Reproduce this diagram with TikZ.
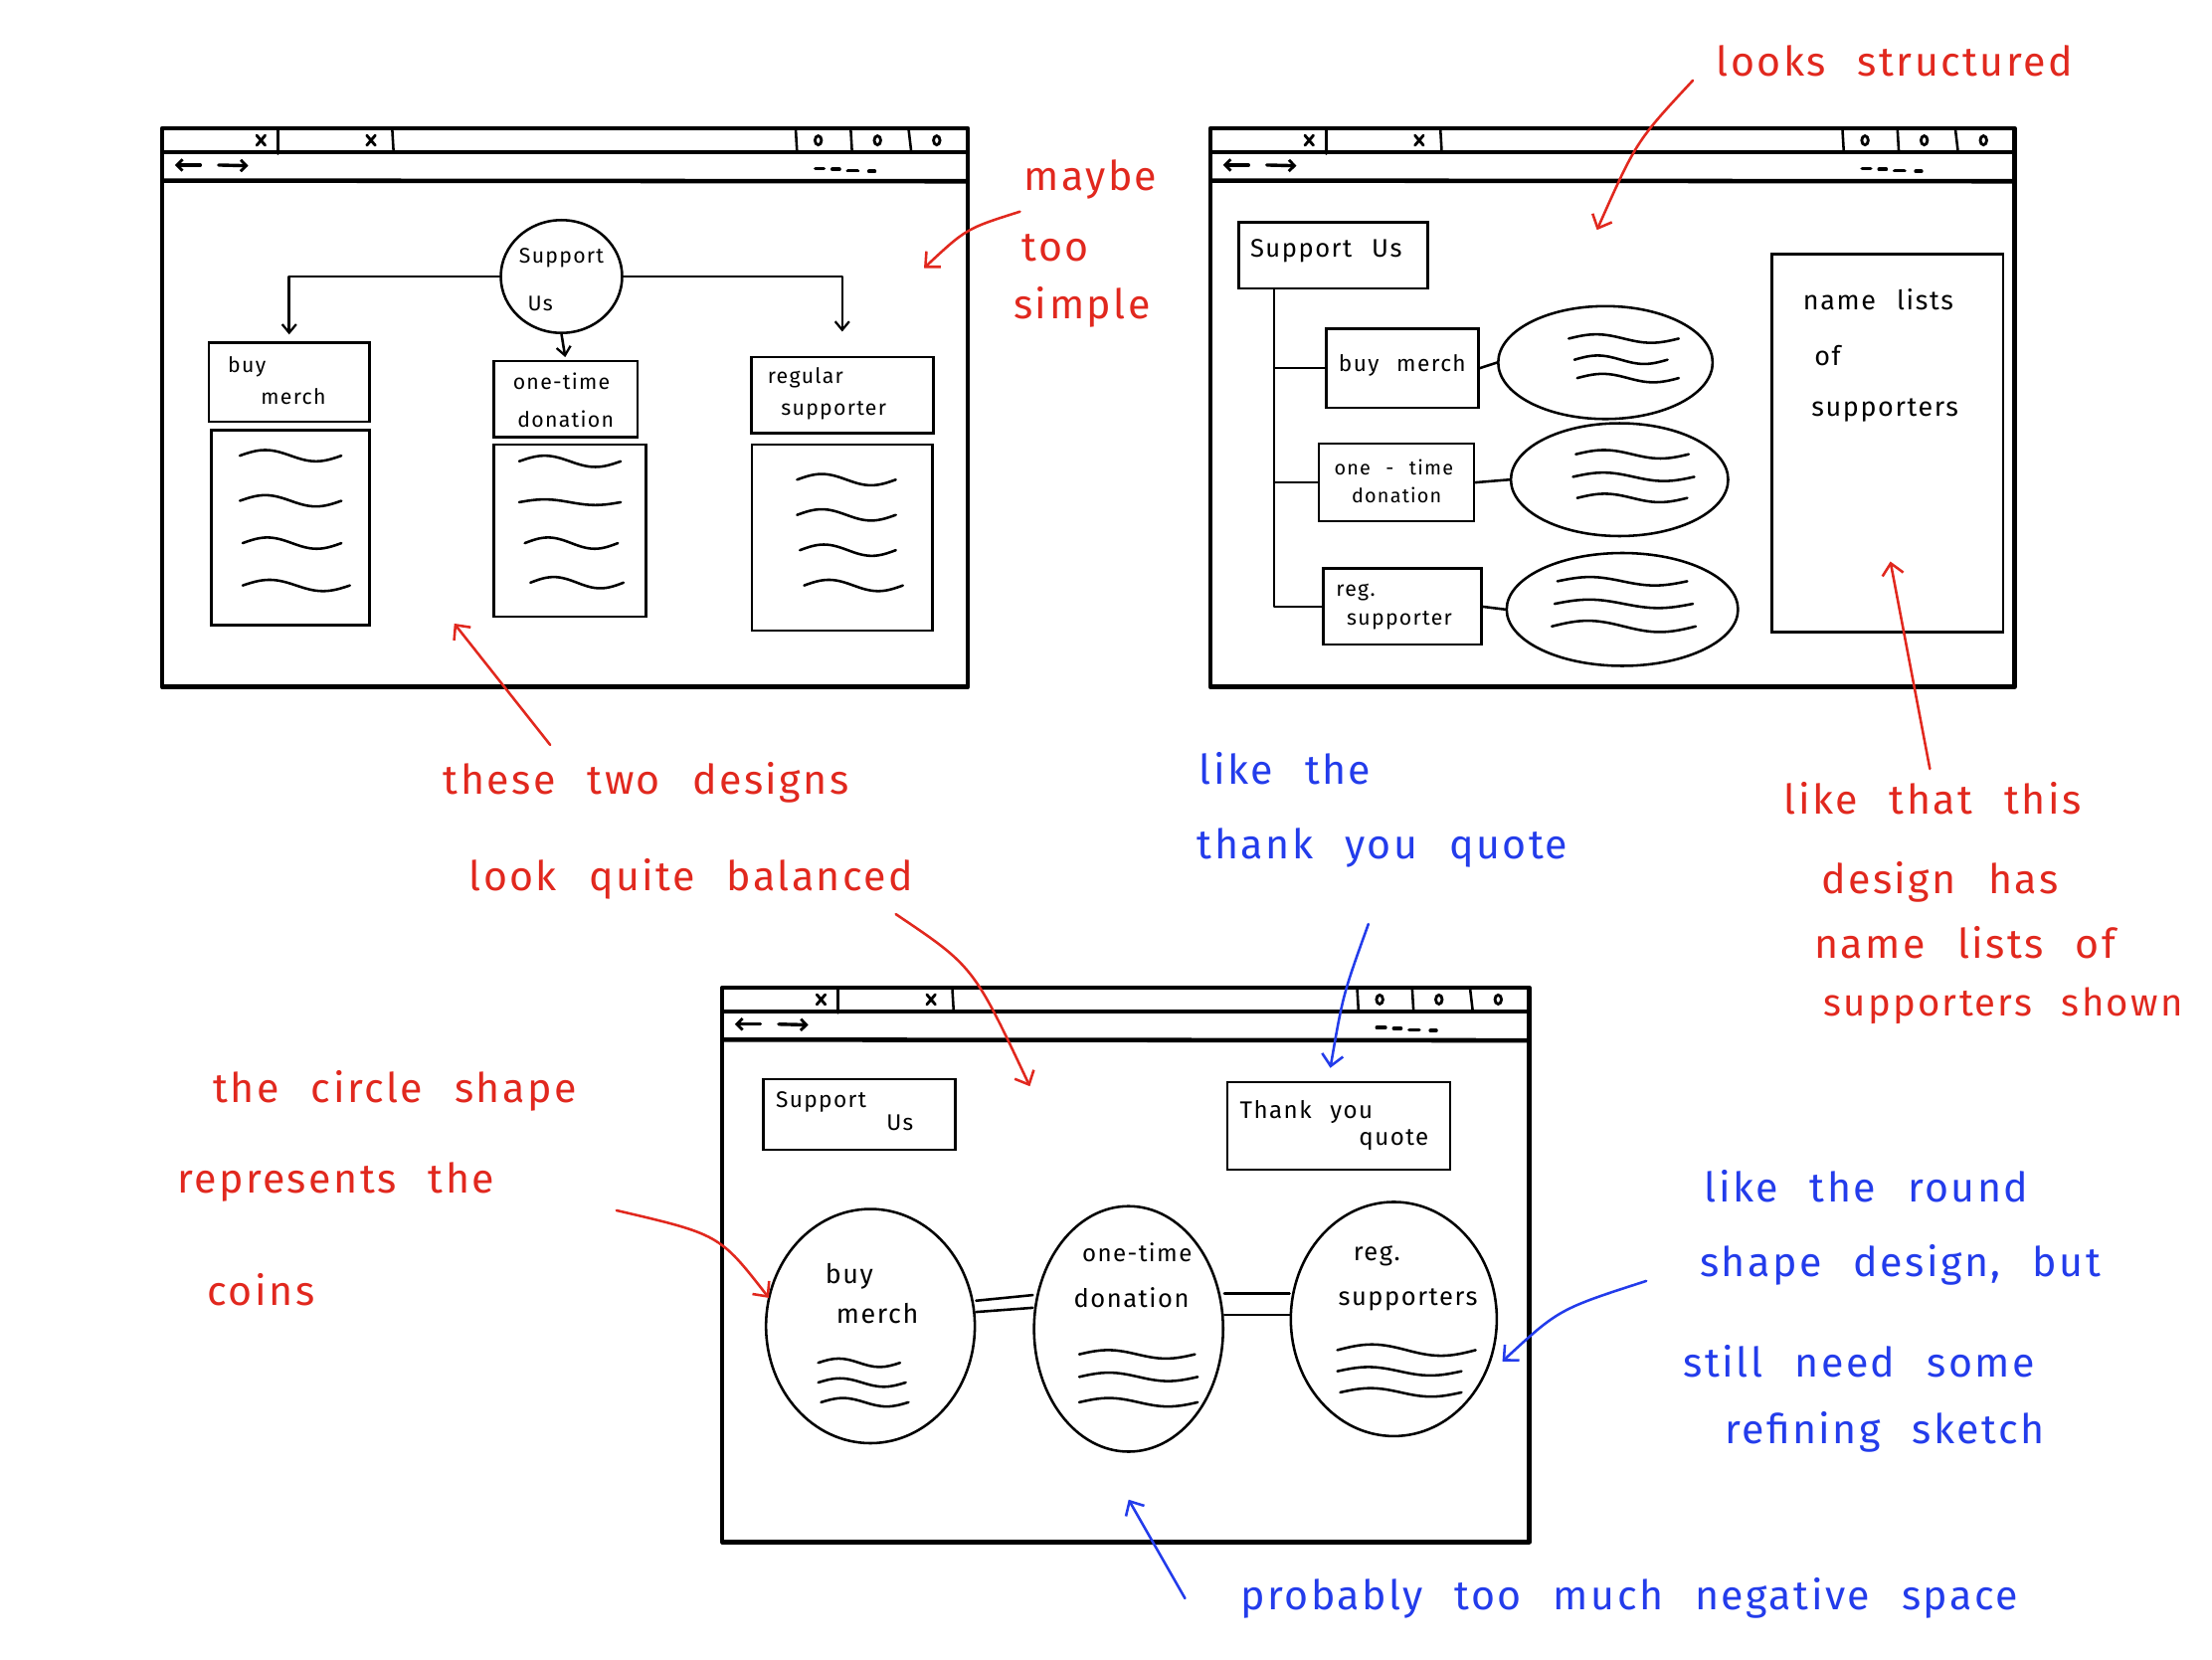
\documentclass[tikz,border=0pt]{standalone}
\usepackage{fontspec}
\setmainfont{Fira Sans}
\newfontfamily\handfont{Fira Sans}[LetterSpace=6,WordSpace=2.4]
\usetikzlibrary{arrows.meta,shapes.geometric}
\definecolor{redc}{RGB}{225,40,30}
\definecolor{bluec}{RGB}{35,60,235}
\tikzset{
  frame/.style={line width=3.2pt,line join=round},
  ink/.style={line width=1.8pt,line cap=round,line join=round},
  xmark/.style={line width=2pt,line cap=round},
  omark/.style={line width=2pt},
  tbarrow/.style={line width=2.4pt,line cap=round,-{Straight Barb[length=4pt,width=8pt,line width=2pt]}},
  dashmark/.style={line width=2.6pt,line cap=round},
  box/.style={draw,line width=1.8pt,rectangle,inner sep=0pt},
  oval/.style={draw,line width=1.8pt,ellipse,inner sep=0pt},
  wtext/.style={font=\handfont\fontsize{15}{17}\selectfont,inner sep=0pt},
  btext/.style={font=\handfont\fontsize{18}{20}\selectfont,inner sep=0pt},
  rnote/.style={text=redc,font=\handfont\fontsize{29}{31}\selectfont,inner sep=0pt},
  bnote/.style={text=bluec,font=\handfont\fontsize{29}{31}\selectfont,inner sep=0pt},
  conn/.style={ink,-{Straight Barb[length=6pt,width=10pt,line width=1.6pt]}},
  rarrow/.style={draw=redc,line width=1.8pt,line cap=round,-{Straight Barb[length=8pt,width=15pt,line width=1.8pt]}},
  barrow/.style={draw=bluec,line width=1.8pt,line cap=round,-{Straight Barb[length=8pt,width=15pt,line width=1.8pt]}}
}
\newcommand\browserwin[4]{%
\begin{scope}[shift={(#1,#2)}]
\draw[frame] (0,0) rectangle (#3,#4);
\draw[frame] (0,17) -- (#3,17);
\draw[frame] (0,37) -- (#3,37.5);
\draw[ink] (82,0) -- (82,18);
\draw[ink] (163,0) -- (164,17);
\draw[xmark] (67,5) -- (73,12) (73,5) -- (67,12);
\draw[xmark] (145,5) -- (151,12) (151,5) -- (145,12);
\draw[ink] (#3-122,0) -- (#3-121,17);
\draw[ink] (#3-83,0) -- (#3-82,17);
\draw[ink] (#3-42,0) -- (#3-40,17);
\draw[omark] (#3-106,8.5) ellipse (2.3 and 3.2);
\draw[omark] (#3-64,8.5) ellipse (2.3 and 3.2);
\draw[omark] (#3-22,8.5) ellipse (2.3 and 3.2);
\draw[tbarrow] (27,26) -- (9,26);
\draw[tbarrow] (40,26) -- (61,26.5);
\draw[dashmark] (#3-108,28.5)--(#3-102,28.5) (#3-96,29)--(#3-91,29) (#3-85,30)--(#3-78,30) (#3-70,30.5)--(#3-66,30.5);
\end{scope}}
\newcommand\wv[4]{% x, y, width, amplitude
\draw[ink] (#1,#2) sin ++(#3/4,-#4) cos ++(#3/4,#4) sin ++(#3/4,#4) cos ++(#3/4,-#4);}
\begin{document}
\begin{tikzpicture}[x=1pt,y=-1pt]
\useasboundingbox (0,0) rectangle (1568,1176);
\fill[white] (0,0) rectangle (1568,1176);

% ---------------- windows ----------------
\browserwin{115}{91}{571}{396}
\browserwin{858}{91}{570}{396}
\browserwin{512}{700}{572}{393}

% ---------------- top-left content ----------------
\node[oval,minimum width=86pt,minimum height=80pt] (tlsup) at (398,196) {};
\node[wtext] (tlsupa) at (398,183) {Support};
\node[wtext] (tlsupb) at (383,215) {Us};

\node[box,minimum width=114pt,minimum height=56pt] (tlbuyh) at (205,271) {};
\node[box,minimum width=112pt,minimum height=138pt] (tlbuyb) at (206,374) {};
\node[wtext] (tlbuyt1) at (175,260) {buy};
\node[wtext] (tlbuyt2) at (208,281) {merch};
\wv{170}{323}{72}{4}\wv{170}{355}{72}{4}\wv{172}{385}{70}{4}\wv{172}{415}{76}{4}

\node[box,minimum width=102pt,minimum height=54pt] (tloneh) at (401,283) {};
\node[box,minimum width=108pt,minimum height=122pt] (tloneb) at (404,376) {};
\node[wtext] (tlonet1) at (398,270) {one-time};
\node[wtext] (tlonet2) at (401,297) {donation};
\wv{368}{327}{72}{4}\wv{368}{356}{72}{2}\wv{372}{385}{66}{4}\wv{376}{413}{66}{4}

\node[box,minimum width=129pt,minimum height=54pt] (tlregh) at (597,280) {};
\node[box,minimum width=128pt,minimum height=132pt] (tlregb) at (597,381) {};
\node[wtext] (tlregt1) at (571,268) {regular};
\node[wtext] (tlregt2) at (591,291) {supporter};
\wv{565}{340}{70}{4}\wv{565}{365}{70}{4}\wv{567}{390}{68}{4}\wv{570}{415}{70}{4}

\draw[conn,shorten >=5pt] (tlsup.west) -| (tlbuyh.north);
\draw[conn,shorten >=17pt] (tlsup.east) -| (tlregh.north);
\draw[conn,shorten >=2pt] (tlsup.south) -- (tloneh.north);

% ---------------- top-right content ----------------
\node[box,minimum width=134pt,minimum height=47pt] (trsup) at (945,181) {};
\node[btext] (trsupt) at (940,178) {Support Us};

\node[box,minimum width=108pt,minimum height=56pt] (trbuy) at (994,261) {};
\node[wtext,font=\handfont\fontsize{16}{18}\selectfont] (trbuyt) at (994,259) {buy merch};
\node[box,minimum width=110pt,minimum height=55pt] (trone) at (990,342) {};
\node[wtext,font=\handfont\fontsize{14}{16}\selectfont] (tronet1) at (988,331) {one - time};
\node[wtext,font=\handfont\fontsize{14}{16}\selectfont] (tronet2) at (990,351) {donation};
\node[box,minimum width=112pt,minimum height=54pt] (trreg) at (994,430) {};
\node[wtext] (trregt1) at (961,420) {reg.};
\node[wtext] (trregt2) at (992,440) {supporter};

\draw[ink] ([xshift=26pt]trsup.south west) |- (trbuy.west);
\draw[ink] ([xshift=26pt]trsup.south west) |- (trone.west);
\draw[ink] ([xshift=26pt]trsup.south west) |- (trreg.west);

\node[oval,minimum width=152pt,minimum height=80pt] (trbuyo) at (1138,257) {};
\node[oval,minimum width=154pt,minimum height=80pt] (troneo) at (1148,340) {};
\node[oval,minimum width=164pt,minimum height=80pt] (trrego) at (1150,432) {};
\draw[ink] (trbuy.east) -- (trbuyo.west);
\draw[ink] (trone.east) -- (troneo.west);
\draw[ink] (trreg.east) -- (trrego.west);
\wv{1112}{240}{78}{3}\wv{1116}{255}{66}{3}\wv{1118}{268}{72}{3}
\wv{1117}{322}{80}{3}\wv{1115}{338}{86}{3}\wv{1118}{353}{78}{3}
\wv{1104}{412}{92}{3}\wv{1102}{428}{98}{3}\wv{1100}{444}{102}{4}

\node[box,minimum width=164pt,minimum height=268pt] (trlist) at (1338,314) {};
\node[btext,anchor=west,font=\handfont\fontsize{19}{21}\selectfont] (trlistt1) at (1278,212) {name lists};
\node[btext,anchor=west,font=\handfont\fontsize{19}{21}\selectfont] (trlistt2) at (1286,252) {of};
\node[btext,anchor=west,font=\handfont\fontsize{19}{21}\selectfont] (trlistt3) at (1284,291) {supporters};

% ---------------- bottom content ----------------
\node[box,minimum width=136pt,minimum height=50pt] (bsup) at (609,790) {};
\node[wtext,font=\handfont\fontsize{16}{18}\selectfont] (bsupt1) at (582,781) {Support};
\node[wtext,font=\handfont\fontsize{16}{18}\selectfont] (bsupt2) at (638,796) {Us};
\node[box,minimum width=158pt,minimum height=62pt] (bty) at (949,798) {};
\node[wtext,font=\handfont\fontsize{17}{19}\selectfont] (btyt1) at (926,788) {Thank you};
\node[wtext,font=\handfont\fontsize{17}{19}\selectfont] (btyt2) at (988,808) {quote};

\node[oval,minimum width=148pt,minimum height=166pt] (bbuy) at (617,940) {};
\node[oval,minimum width=134pt,minimum height=174pt] (bone) at (800,942) {};
\node[oval,minimum width=146pt,minimum height=166pt] (breg) at (988,935) {};
\draw[ink] ([yshift=18pt]bbuy.east) -- ([yshift=24pt]bone.west);
\draw[ink] ([yshift=10pt]bbuy.east) -- ([yshift=15pt]bone.west);
\draw[ink] ([yshift=25pt]bone.east) -- ([yshift=18pt]breg.west);
\draw[ink] ([yshift=10pt]bone.east) -- ([yshift=3pt]breg.west);
\node[btext,font=\handfont\fontsize{19}{21}\selectfont] (bbuyt1) at (602,905) {buy};
\node[btext,font=\handfont\fontsize{19}{21}\selectfont] (bbuyt2) at (622,931) {merch};
\node[btext,font=\handfont\fontsize{17}{19}\selectfont] (bonet1) at (806,888) {one-time};
\node[btext] (bonet2) at (802,920) {donation};
\node[btext] (bregt1) at (976,890) {reg.};
\node[btext] (bregt2) at (998,921) {supporters};
\wv{580}{966}{58}{3}\wv{580}{980}{62}{3}\wv{582}{994}{62}{3}
\wv{765}{960}{82}{3}\wv{765}{976}{84}{3}\wv{765}{994}{84}{3}
\wv{948}{957}{98}{4}\wv{948}{972}{88}{3}\wv{950}{987}{86}{3}

% ---------------- red notes ----------------
\node[rnote] (n1) at (1343,43) {looks structured};
\node[rnote] (n2a) at (773,127) {maybe};
\node[rnote] (n2b) at (748,176) {too};
\node[rnote] (n2c) at (767,218) {simple};
\node[rnote] (n3a) at (458,555) {these two designs};
\node[rnote] (n3b) at (490,623) {look quite balanced};
\node[rnote] (n4a) at (280,773) {the circle shape};
\node[rnote] (n4b) at (238,838) {represents the};
\node[rnote] (n4c) at (185,914) {coins};
\node[rnote] (n5a) at (1370,566) {like that this};
\node[rnote] (n5b) at (1375,625) {design has};
\node[rnote] (n5c) at (1393,668) {name lists of};
\node[rnote,font=\handfont\fontsize{27}{29}\selectfont] (n5d) at (1420,713) {supporters shown};

% ---------------- blue notes ----------------
\node[bnote] (m1a) at (911,545) {like the};
\node[bnote] (m1b) at (980,601) {thank you quote};
\node[bnote] (m2a) at (1323,841) {like the round};
\node[bnote] (m2b) at (1347,897) {shape design, but};
\node[bnote] (m2c) at (1318,965) {still need some};
\node[bnote] (m2d) at (1336,1015) {refining sketch};
\node[bnote] (m3) at (1155,1133) {probably too much negative space};

% ---------------- note arrows ----------------
\coordinate (r1s) at (1200,57);  \coordinate (r1e) at (1132,163);
\coordinate (r2s) at (723,150);  \coordinate (r2e) at (655,190);
\coordinate (r3s) at (390,528);  \coordinate (r3e) at (322,442);
\coordinate (r4s) at (635,648);  \coordinate (r4e) at (730,770);
\coordinate (r5s) at (437,858);  \coordinate (r5e) at (545,920);
\coordinate (r6s) at (1368,545); \coordinate (r6e) at (1340,398);
\coordinate (b1s) at (970,655);  \coordinate (b1e) at (943,757);
\coordinate (b2s) at (1167,908); \coordinate (b2e) at (1065,965);
\coordinate (b3s) at (840,1133); \coordinate (b3e) at (800,1063);
\draw[rarrow] (r1s) .. controls (1160,100) .. (r1e);
\draw[rarrow] (r2s) .. controls (685,162) .. (r2e);
\draw[rarrow] (r3s) -- (r3e);
\draw[rarrow] (r4s) .. controls (690,685) .. (r4e);
\draw[rarrow] (r5s) .. controls (510,875) .. (r5e);
\draw[rarrow] (r6s) -- (r6e);
\draw[barrow] (b1s) .. controls (952,705) .. (b1e);
\draw[barrow] (b2s) .. controls (1105,928) .. (b2e);
\draw[barrow] (b3s) -- (b3e);
\end{tikzpicture}
\end{document}
